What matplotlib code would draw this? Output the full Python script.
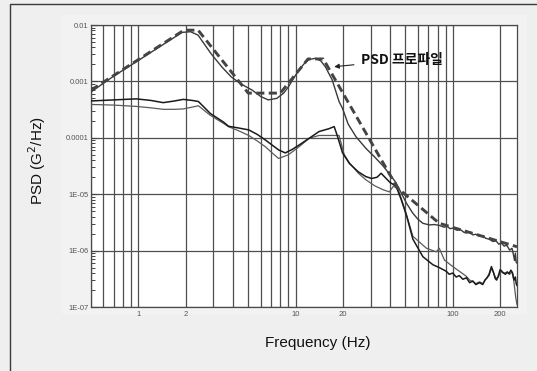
import matplotlib
matplotlib.use("Agg")
import matplotlib.pyplot as plt
from matplotlib.patches import Rectangle
from matplotlib.ticker import FixedLocator, NullFormatter, LogLocator

# ---------------- data ----------------
prof_f = [0.5, 1.95, 2.4, 5.0, 8.0, 12.0, 15.0, 44.5, 82.0, 256]
prof_v = [7.0e-4, 8.1e-3, 8.1e-3, 6.2e-4, 6.2e-4, 2.5e-3, 2.5e-3, 1.29e-5, 3.05e-6, 1.17e-6]

resp_f = [0.5, 0.7, 1.0, 1.4, 1.9, 2.15, 2.4, 2.9, 3.4, 3.9, 4.5, 5.3, 6.0, 6.7, 7.6, 8.4,
          9.0, 10.5, 11.5, 12.2, 13.4, 14.5, 15.5, 17.1, 18.9, 19.9, 21.6, 24.2, 28, 32,
          35.9, 40, 43.5, 47, 50.6, 55.7, 60, 64.5, 71, 76, 82, 88, 92, 96, 100, 106, 112,
          118, 122, 128, 134, 140, 148, 155, 162, 170, 180, 188, 196, 204, 212, 220, 230,
          238, 244, 247, 250, 253, 256]
resp_v = [6.5e-4, 1.25e-3, 2.35e-3, 4.3e-3, 7.4e-3, 7.6e-3, 6.6e-3, 3.1e-3, 1.8e-3, 1.2e-3,
          9.0e-4, 7.0e-4, 5.4e-4, 4.7e-4, 5.0e-4, 6.2e-4, 8.0e-4, 1.6e-3, 2.15e-3, 2.45e-3,
          2.57e-3, 2.3e-3, 1.8e-3, 1.06e-3, 4.4e-4, 3.3e-4, 1.75e-4, 1.05e-4, 6.5e-5, 4.5e-5,
          3.2e-5, 2.2e-5, 1.6e-5, 1.05e-5, 7.0e-6, 4.6e-6, 3.6e-6, 3.05e-6, 2.85e-6, 2.9e-6,
          2.8e-6, 2.6e-6, 2.7e-6, 2.45e-6, 2.5e-6, 2.3e-6, 2.35e-6, 2.1e-6, 2.05e-6, 2.15e-6,
          1.9e-6, 1.95e-6, 1.8e-6, 1.85e-6, 1.65e-6, 1.6e-6, 1.45e-6, 1.5e-6, 1.3e-6, 1.35e-6,
          1.2e-6, 1.25e-6, 1.02e-6, 1.1e-6, 8.0e-7, 6.7e-7, 9.0e-7, 6.2e-7, 6.0e-7]

lowA_f = [0.5, 0.7, 0.97, 1.2, 1.44, 1.7, 1.93, 2.2, 2.41, 2.87, 3.48, 3.75, 4.3, 5.04, 5.7,
          6.44, 7.8, 8.6, 9.5, 10.5, 12.2, 14.1, 16.3, 17.6, 18.4, 19.9, 22, 25, 28, 30.5, 33,
          35, 37, 40, 43.5, 47, 51, 55.7, 64.5, 74.8, 82, 90.8, 95, 100, 105, 110, 116, 122,
          128, 134, 140, 148, 155, 160, 165, 170, 176, 181, 186, 190, 195, 200, 205, 210, 216,
          222, 228, 234, 240, 245, 250, 253, 256]
lowA_v = [4.5e-4, 4.7e-4, 4.9e-4, 4.6e-4, 4.2e-4, 4.5e-4, 4.8e-4, 4.6e-4, 4.4e-4, 2.7e-4,
          1.9e-4, 1.6e-4, 1.5e-4, 1.38e-4, 1.15e-4, 9.1e-5, 6.1e-5, 5.4e-5, 6.2e-5, 7.4e-5,
          9.8e-5, 1.29e-4, 1.45e-4, 1.58e-4, 1.1e-4, 5.4e-5, 3.5e-5, 2.5e-5, 2.05e-5, 1.9e-5,
          2.0e-5, 2.35e-5, 2.0e-5, 1.6e-5, 1.4e-5, 8.0e-6, 4.0e-6, 1.6e-6, 7.8e-7, 5.6e-7,
          5.0e-7, 4.3e-7, 3.8e-7, 4.0e-7, 3.4e-7, 3.6e-7, 3.1e-7, 3.3e-7, 2.7e-7, 2.9e-7,
          2.5e-7, 2.7e-7, 2.5e-7, 3.0e-7, 3.3e-7, 3.8e-7, 5.2e-7, 4.2e-7, 3.2e-7, 3.0e-7,
          3.6e-7, 4.6e-7, 4.3e-7, 4.0e-7, 3.8e-7, 4.2e-7, 3.9e-7, 4.5e-7, 4.0e-7, 3.0e-7,
          3.4e-7, 2.6e-7, 2.4e-7]

lowB_f = [0.5, 0.7, 0.97, 1.2, 1.44, 1.7, 1.93, 2.2, 2.41, 2.87, 3.48, 3.75, 4.3, 5.04, 5.7,
          6.44, 7.2, 7.8, 9.0, 10.5, 12.2, 14.1, 16.3, 18.9, 20.4, 22, 25.3, 28, 32, 36, 39.5,
          42, 45, 50, 55.7, 61.6, 68, 78.5, 82, 88.5, 100, 122, 128, 134, 140, 148, 155, 162,
          170, 176, 182, 188, 195, 200, 210, 220, 230, 238, 244, 248, 252, 256]
lowB_v = [3.9e-4, 3.8e-4, 3.6e-4, 3.4e-4, 3.2e-4, 3.2e-4, 3.25e-4, 3.5e-4, 3.7e-4, 2.5e-4,
          1.8e-4, 1.57e-4, 1.35e-4, 1.1e-4, 8.8e-5, 6.9e-5, 5.2e-5, 4.3e-5, 5.0e-5, 6.9e-5,
          9.8e-5, 1.1e-4, 1.1e-4, 1.1e-4, 5.0e-5, 3.6e-5, 2.3e-5, 1.8e-5, 1.4e-5, 1.2e-5,
          1.1e-5, 1.4e-5, 1.2e-5, 5.0e-6, 1.8e-6, 1.4e-6, 1.1e-6, 9.5e-7, 1.1e-6, 6.8e-7,
          5.2e-7, 3.5e-7, 3.0e-7, 2.8e-7, 2.6e-7, 2.8e-7, 2.6e-7, 3.1e-7, 3.6e-7, 4.8e-7,
          4.0e-7, 3.2e-7, 3.4e-7, 4.3e-7, 4.0e-7, 4.1e-7, 3.8e-7, 4.2e-7, 3.0e-7, 2.0e-7,
          1.4e-7, 1.1e-7]

x_tick_vals = [1, 2, 10, 20, 100, 200]
x_tick_labels = ["1", "2", "10", "20", "100", "200"]
y_tick_vals = [1e-2, 1e-3, 1e-4, 1e-5, 1e-6, 1e-7]
y_tick_labels = ["0.01", "0.001", "0.0001", "1E-05", "1E-06", "1E-07"]

x_label = "Frequency (Hz)"
y_label = "PSD (G$^2$/Hz)"
annot_text = "PSD 프로파일"

# ---------------- figure ----------------
W, H = 537, 371
fig = plt.figure(figsize=(W / 100, H / 100), dpi=100, facecolor="#efefef")

fig.patches.append(Rectangle((62 / W, 1 - 314 / H), (527 - 62) / W, (314 - 15) / H,
                             transform=fig.transFigure, facecolor="#f2f2f2",
                             edgecolor="none", zorder=-2))
fig.patches.append(Rectangle((10 / W, -0.05), 1.2, 1 - 4 / H + 0.05,
                             transform=fig.transFigure, facecolor="none",
                             edgecolor="#3a3a3a", linewidth=1.0, zorder=-1))

ax = fig.add_axes([91 / W, 1 - 307 / H, (517 - 91) / W, (307 - 25) / H])
ax.set_zorder(3)
ax.set_facecolor("white")
ax.set_xscale("log")
ax.set_yscale("log")
ax.set_xlim(0.5, 256)
ax.set_ylim(1e-7, 1e-2)

ax.plot(lowB_f, lowB_v, color="#5a5a5a", lw=0.9, zorder=3)
ax.plot(lowA_f, lowA_v, color="#1a1a1a", lw=1.1, zorder=4)
ax.plot(resp_f, resp_v, color="#3a3a3a", lw=1.0, zorder=4)
ax.plot(prof_f, prof_v, color="#444444", lw=2.1, linestyle=(0, (2.8, 1.5)), zorder=5)

ax.xaxis.set_major_locator(FixedLocator(x_tick_vals))
ax.xaxis.set_minor_locator(LogLocator(base=10, subs=range(1, 10), numticks=20))
ax.set_xticks(x_tick_vals)
ax.set_xticklabels(x_tick_labels)
ax.xaxis.set_minor_formatter(NullFormatter())
ax.grid(True, which="both", axis="x", color="#4f4f4f", lw=0.9, zorder=1)
ax.grid(True, which="major", axis="y", color="#4f4f4f", lw=0.9, zorder=1)
ax.set_axisbelow(True)

ax.set_yticks(y_tick_vals)
ax.set_yticklabels(y_tick_labels)
ax.yaxis.set_minor_locator(LogLocator(base=10, subs=range(2, 10), numticks=20))
ax.yaxis.set_minor_formatter(NullFormatter())

ax.tick_params(axis="x", which="both", length=0, labelsize=5.5, labelcolor="#555555", pad=3)
ax.tick_params(axis="y", which="major", direction="in", length=4.5, width=0.8,
               color="#444444", labelsize=5.5, labelcolor="#555555", pad=2)
ax.tick_params(axis="y", which="minor", direction="in", length=3, width=0.7, color="#444444")

for s in ax.spines.values():
    s.set_color("#4a4a4a")
    s.set_linewidth(0.9)

for lab in ax.get_xticklabels() + ax.get_yticklabels():
    lab.set_family("Liberation Sans")

fig.text(318 / W, 1 - 343 / H, x_label, ha="center", va="center",
         fontsize=11, family="Liberation Sans", color="#111111")
fig.text(37 / W, 1 - 161 / H, y_label, ha="center", va="center", rotation=90,
         fontsize=11, family="Liberation Sans", color="#111111")

ax.annotate(annot_text, xy=(17.6, 1.82e-3), xytext=(26.0, 2.4e-3),
            ha="left", va="center", fontsize=10, fontweight="bold",
            family=["Noto Sans CJK KR", "DejaVu Sans"], color="#111111",
            arrowprops=dict(arrowstyle="-|>", color="#222222", lw=0.8,
                            mutation_scale=7, shrinkA=3, shrinkB=0), zorder=6)

fig.savefig("out.png", dpi=100, facecolor=fig.get_facecolor())
